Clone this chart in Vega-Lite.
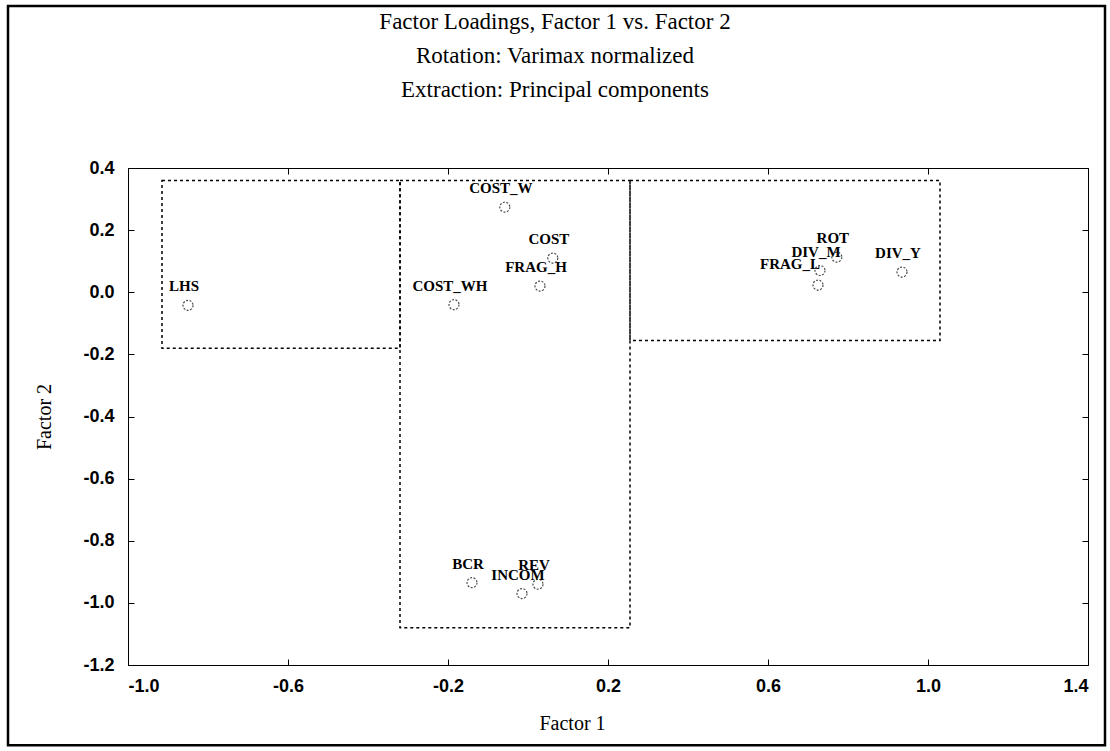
{
  "$schema": "https://vega.github.io/schema/vega-lite/v6.json",
  "width": 960,
  "height": 497,
  "autosize": "none",
  "padding": {"left": 128, "top": 168, "right": 22, "bottom": 86},
  "background": "white",
  "title": {
    "text": ["Factor Loadings, Factor 1 vs. Factor 2", "Rotation: Varimax normalized", "Extraction: Principal components"],
    "font": "Liberation Serif",
    "fontSize": 23,
    "fontWeight": "normal",
    "lineHeight": 34,
    "anchor": "middle",
    "offset": -97,
    "dx": -53,
    "color": "black"
  },
  "datasets": {
    "points": [
      {"var": "LHS", "f1": -0.85, "f2": -0.042},
      {"var": "COST_WH", "f1": -0.185, "f2": -0.04},
      {"var": "COST_W", "f1": -0.058, "f2": 0.274},
      {"var": "COST", "f1": 0.062, "f2": 0.11},
      {"var": "FRAG_H", "f1": 0.03, "f2": 0.02},
      {"var": "BCR", "f1": -0.14, "f2": -0.935},
      {"var": "INCOM", "f1": -0.015, "f2": -0.97},
      {"var": "REV", "f1": 0.025, "f2": -0.94},
      {"var": "ROT", "f1": 0.772, "f2": 0.113},
      {"var": "DIV_M", "f1": 0.73, "f2": 0.07},
      {"var": "FRAG_L", "f1": 0.725, "f2": 0.023},
      {"var": "DIV_Y", "f1": 0.935, "f2": 0.065}
    ],
    "boxes": [
      {"x1": -0.915, "x2": -0.32, "y1": -0.18, "y2": 0.36},
      {"x1": -0.32, "x2": 0.255, "y1": -1.08, "y2": 0.36},
      {"x1": 0.255, "x2": 1.03, "y1": -0.155, "y2": 0.36}
    ],
    "page": [
      {"x1": -1.3, "x2": 1.4425, "y1": -1.458, "y2": 0.9216}
    ]
  },
  "config": {
    "view": {"stroke": "black", "strokeWidth": 1},
    "axis": {
      "grid": false,
      "domain": false,
      "tickColor": "black",
      "tickSize": -6,
      "labelFont": "Liberation Sans",
      "labelFontWeight": "bold",
      "labelFontSize": 18,
      "labelColor": "black",
      "labelExpr": "replace(format(datum.value, '.1f'), '\u2212', '-')",
      "titleFont": "Liberation Serif",
      "titleFontSize": 20,
      "titleFontWeight": "normal",
      "titleColor": "black"
    }
  },
  "resolve": {"axis": {"x": "independent", "y": "independent"}},
  "layer": [
    {
      "data": {"name": "boxes"},
      "mark": {"type": "rect", "fill": "transparent", "stroke": "black", "strokeWidth": 1.5, "strokeDash": [3, 3]},
      "encoding": {
        "x": {"field": "x1", "type": "quantitative", "scale": {"domain": [-1, 1.4], "nice": false, "zero": false},
          "axis": {"orient": "bottom", "values": [-1, -0.6, -0.2, 0.2, 0.6, 1.0, 1.4], "title": "Factor 1", "labelPadding": 18, "titlePadding": 18, "titleX": 444}},
        "x2": {"field": "x2"},
        "y": {"field": "y1", "type": "quantitative", "scale": {"domain": [-1.2, 0.4], "nice": false, "zero": false},
          "axis": {"orient": "left", "values": [-1.2, -1.0, -0.8, -0.6, -0.4, -0.2, 0.0, 0.2, 0.4], "title": "Factor 2", "labelPadding": 20, "titlePadding": 28}},
        "y2": {"field": "y2"}
      }
    },
    {
      "data": {"name": "page"},
      "mark": {"type": "rect", "fill": "transparent", "stroke": "black", "strokeWidth": 2.5, "clip": false},
      "encoding": {
        "x": {"field": "x1", "type": "quantitative", "axis": null},
        "x2": {"field": "x2"},
        "y": {"field": "y1", "type": "quantitative", "axis": null},
        "y2": {"field": "y2"}
      }
    },
    {
      "data": {"name": "points"},
      "mark": {"type": "point", "shape": "circle", "filled": false, "stroke": "black", "strokeWidth": 1.2, "size": 100, "strokeDash": [2, 1.5]},
      "encoding": {
        "x": {"field": "f1", "type": "quantitative", "axis": {"orient": "top", "values": [-1, -0.6, -0.2, 0.2, 0.6, 1.0, 1.4], "labels": false, "title": null}},
        "y": {"field": "f2", "type": "quantitative", "axis": {"orient": "right", "values": [-1.2, -1.0, -0.8, -0.6, -0.4, -0.2, 0.0, 0.2, 0.4], "labels": false, "title": null}}
      }
    },
    {
      "data": {"name": "points"},
      "transform": [{"filter": "datum.var != 'FRAG_L'"}],
      "mark": {"type": "text", "font": "Liberation Serif", "fontWeight": "bold", "fontSize": 15, "dx": -4, "dy": -19, "align": "center", "baseline": "middle", "color": "black"},
      "encoding": {
        "x": {"field": "f1", "type": "quantitative", "axis": null},
        "y": {"field": "f2", "type": "quantitative", "axis": null},
        "text": {"field": "var"}
      }
    },
    {
      "data": {"name": "points"},
      "transform": [{"filter": "datum.var == 'FRAG_L'"}],
      "mark": {"type": "text", "font": "Liberation Serif", "fontWeight": "bold", "fontSize": 15, "dx": -28, "dy": -21, "align": "center", "baseline": "middle", "color": "black"},
      "encoding": {
        "x": {"field": "f1", "type": "quantitative", "axis": null},
        "y": {"field": "f2", "type": "quantitative", "axis": null},
        "text": {"field": "var"}
      }
    }
  ]
}
